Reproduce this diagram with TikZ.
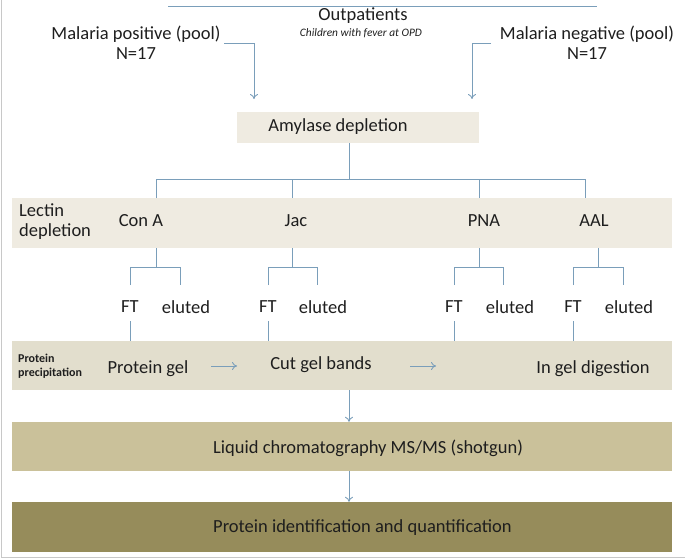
\documentclass[tikz,border=0pt]{standalone}
\usepackage{fontspec}
\setmainfont{Carlito}
\usetikzlibrary{arrows.meta}
\definecolor{wire}{RGB}{122,158,186}
\definecolor{pale}{RGB}{239,235,225}
\definecolor{sand}{RGB}{226,222,205}
\definecolor{tan}{RGB}{202,193,154}
\definecolor{olive}{RGB}{150,140,91}
\definecolor{frame}{RGB}{200,200,200}
\definecolor{ink}{RGB}{30,30,30}
\tikzset{
  band/.style={draw=none,rectangle,inner sep=0pt},
  lbl/.style={text=ink,inner sep=0pt,font=\fontsize{18.5}{20}\selectfont},
  wirestyle/.style={draw=wire,line width=0.9pt},
  flowtip/.style={wirestyle,-{To[length=5pt,width=8pt]}}
}
\newcommand{\band}[6]{\node[band,fill=#4,minimum width=#5,minimum height=#6] (#1) at (#2,#3) {};}
\newcommand{\lbl}[4]{\node[lbl] (#1) at (#2,#3) {#4};}
\newcommand{\stem}[2]{\draw[wirestyle] (#1) -- (#2);}
\newcommand{\flow}[2]{\draw[flowtip] (#1) -- (#2);}
\begin{document}
\begin{tikzpicture}[x=1pt,y=-1pt]
    \useasboundingbox (0,0) rectangle (685,559);
    \draw[frame,line width=1pt] (1.5,0) -- (1.5,557.5) -- (685,557.5);
    % top row
    \coordinate (tl) at (168,6); \coordinate (tr) at (597,6); \stem{tl}{tr}
    \lbl{out}{363}{15.5}{Outpatients}
    \node[lbl,font=\fontsize{11.4}{12}\selectfont\itshape] (kids) at (361,33.5) {Children with fever at OPD};
    \node[lbl,align=center] (pos) at (136,43) {Malaria positive (pool)\\N=17};
    \node[lbl,align=center] (neg) at (587,43) {Malaria negative (pool)\\N=17};
    \band{amy}{358}{127.5}{pale}{242pt}{31pt}
    \lbl{amyt}{338}{127}{Amylase depletion}
    \coordinate (pa) at (224,43); \coordinate (pb) at (254,99);
    \coordinate (na) at (491,43); \coordinate (nb) at (472,99);
    \draw[flowtip] (pa) -| (pb); \draw[flowtip] (na) -| (nb);
    % lectin columns
    \band{lec}{342}{223}{pale}{660pt}{50pt}
    \node[lbl,align=left,anchor=west] (lect) at (19,222) {Lectin\\depletion};
    \lbl{cona}{141}{221}{Con A} \lbl{jac}{296}{221}{Jac}
    \lbl{pna}{484}{221}{PNA} \lbl{aal}{594}{221}{AAL}
    \coordinate (split) at (349,179);
    \draw[wirestyle] (amy.south -| split) -- (split);
    \draw[wirestyle] (156,198) |- (split -| 585,0) -- (585,198);
    \foreach \x in {292,479} { \draw[wirestyle] (\x,179) -- (\x,198); }
    % FT / eluted
    \foreach \cx/\l/\r in {156/130/180,292/268/317,479/454/503,598/573/623} {
      \draw[wirestyle] (\cx,248) -- (\cx,267);
      \draw[wirestyle] (\l,285) |- (\r,267) -- (\r,285);
    }
    \lbl{ft1}{130}{307}{FT} \lbl{el1}{186}{307}{eluted}
    \lbl{ft2}{268}{307}{FT} \lbl{el2}{323}{307}{eluted}
    \lbl{ft3}{454}{307}{FT} \lbl{el3}{510}{307}{eluted}
    \lbl{ft4}{573}{307}{FT} \lbl{el4}{629}{307}{eluted}
    % protein precipitation
    \band{prec}{342}{365.5}{sand}{660pt}{49pt}
    \foreach \f in {ft1,ft2,ft3,ft4} { \draw[wirestyle] ([yshift=-8pt]\f.south) -- (\f |- prec.north); }
    \node[lbl,align=left,anchor=west,font=\fontsize{12}{14}\selectfont\bfseries] (prect) at (18,366) {Protein\\precipitation};
    \lbl{gel}{148}{369}{Protein gel}
    \lbl{cut}{321}{365}{Cut gel bands}
    \lbl{dig}{593}{369}{In gel digestion}
    \coordinate (g1) at (211,366); \coordinate (g2) at (237,366);
    \coordinate (c1) at (410,366); \coordinate (c2) at (436,366);
    \flow{g1}{g2} \flow{c1}{c2}
    % LC and identification
    \band{lc}{342}{446.5}{tan}{660pt}{49pt}
    \node[lbl,anchor=west] (lct) at (213,448) {Liquid chromatography MS/MS (shotgun)};
    \band{ident}{342}{527}{olive}{660pt}{50pt}
    \node[lbl,anchor=west] (idt) at (213,528) {Protein identification and quantification};
    \flow{prec.south -| split}{lc.north -| split}
    \flow{lc.south -| split}{ident.north -| split}
\end{tikzpicture}
\end{document}
